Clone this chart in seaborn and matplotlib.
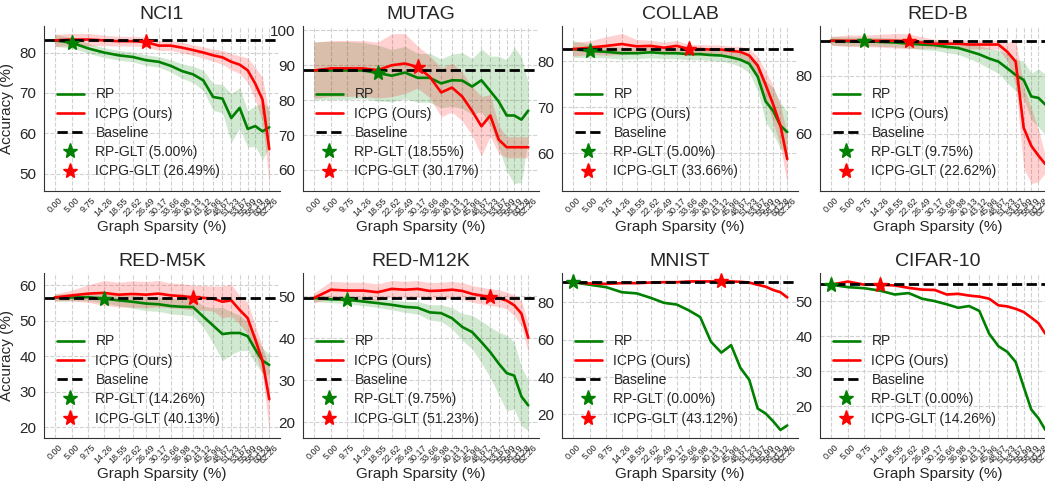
import matplotlib
matplotlib.use("Agg")
import matplotlib.pyplot as plt
from matplotlib.lines import Line2D
import numpy as np
import pandas as pd
import seaborn as sns

# Graph sparsity levels (%) used for every pruning round
sparsity = [0.00, 5.00, 9.75, 14.26, 18.55, 22.62, 26.49, 30.17, 33.66, 36.98,
            40.13, 43.12, 45.96, 48.67, 51.23, 53.67, 55.99, 58.19, 60.28, 62.26]
sparsity_labels = ["0.00", "5.00", "9.75", "14.26", "18.55", "22.62", "26.49", "30.17",
                   "33.66", "36.98", "40.13", "43.12", "45.96", "48.67", "51.23",
                   "53.67", "55.99", "58.19", "60.28", "62.26"]

datasets = ["NCI1", "MUTAG", "COLLAB", "RED-B", "RED-M5K", "RED-M12K", "MNIST", "CIFAR-10"]

# Baseline accuracy (unpruned)
baseline = [83.0, 88.5, 82.7, 92.0, 56.6, 49.6, 90.9, 54.9]

# RP (random pruning): mean and std accuracy per sparsity level
rp_nci1 = [83.0, 82.4, 81.0, 80.0, 79.3, 78.9, 78.1, 77.7, 76.7, 75.4,
           74.6, 73.1, 69.0, 68.6, 63.8, 66.3, 61.1, 61.8, 60.5, 61.5]
rp_nci1_std = [1.5, 1.3, 1.2, 1.2, 1.2, 1.2, 1.3, 1.3, 1.5, 1.8,
               2.0, 2.5, 3.3, 3.5, 6.0, 5.0, 4.5, 5.0, 7.0, 5.0]
rp_mutag = [88.5, 88.5, 88.5, 88.5, 87.8, 87.0, 87.9, 86.4, 86.4, 84.8,
            85.7, 85.6, 83.9, 85.7, 82.6, 79.6, 75.6, 75.6, 74.4, 77.0]
rp_mutag_std = [8.3, 8.3, 8.3, 8.0, 8.0, 7.5, 7.5, 7.0, 7.0, 7.0,
                7.5, 8.0, 8.0, 9.0, 10.0, 13.0, 16.0, 19.5, 18.0, 8.0]
rp_collab = [82.7, 82.3, 82.1, 81.8, 81.8, 82.0, 81.8, 81.8, 81.6, 81.6,
             81.4, 81.3, 80.9, 80.4, 79.5, 76.7, 71.3, 69.2, 66.0, 64.6]
rp_collab_std = [1.8, 1.5, 1.3, 1.3, 1.2, 1.2, 1.2, 1.2, 1.2, 1.2,
                 1.2, 1.2, 1.3, 1.5, 2.0, 3.0, 4.5, 5.0, 5.0, 4.5]
rp_redb = [92.0, 91.8, 91.8, 91.6, 91.4, 91.0, 90.7, 90.5, 89.9, 89.5,
           88.4, 87.3, 85.9, 84.8, 82.5, 80.2, 78.5, 72.8, 72.3, 70.0]
rp_redb_std = [1.5, 1.5, 1.5, 1.5, 1.5, 1.5, 1.8, 1.8, 2.0, 2.2,
               2.5, 3.0, 3.5, 4.0, 5.0, 5.5, 6.5, 8.0, 10.0, 10.5]
rp_m5k = [56.6, 56.6, 56.7, 56.3, 55.8, 55.4, 54.9, 54.7, 54.2, 54.0,
          53.9, 51.2, 48.7, 46.3, 46.6, 46.6, 45.7, 42.0, 38.8, 37.6]
rp_m5k_std = [1.0, 1.0, 1.0, 1.2, 1.5, 1.8, 2.0, 2.0, 2.2, 2.3,
              2.5, 3.0, 5.0, 7.5, 6.0, 5.0, 4.0, 4.0, 3.5, 3.0]
rp_m12k = [49.6, 49.3, 49.2, 48.8, 48.4, 48.0, 47.5, 47.3, 46.2, 46.0,
           44.8, 42.7, 41.5, 39.1, 36.7, 34.0, 31.7, 31.1, 26.1, 24.0]
rp_m12k_std = [0.8, 0.8, 0.9, 1.0, 1.0, 1.2, 1.3, 1.5, 1.8, 2.0,
               2.5, 3.2, 4.0, 5.0, 6.0, 7.5, 9.0, 8.0, 7.0, 6.0]
rp_mnist = [90.9, 89.5, 88.2, 85.5, 84.9, 82.5, 79.8, 78.9, 75.8, 72.2,
            58.9, 53.1, 57.1, 44.9, 38.5, 23.1, 20.4, 16.2, 11.6, 14.0]
rp_mnist_std = [0.3] * 20
rp_cifar = [54.7, 54.0, 53.7, 53.0, 51.9, 52.3, 50.7, 50.0, 49.1, 48.1,
            48.6, 47.2, 40.7, 37.1, 35.5, 32.6, 25.5, 19.0, 16.5, 13.2]
rp_cifar_std = [0.2] * 20

# ICPG (ours): mean and std accuracy per sparsity level
icpg_nci1 = [83.0, 83.2, 83.2, 83.0, 82.8, 82.8, 82.6, 81.7, 81.7, 81.2,
             80.6, 80.0, 79.3, 78.8, 77.7, 77.0, 75.6, 72.3, 68.4, 56.1]
icpg_nci1_std = [1.5, 1.5, 1.5, 1.3, 1.2, 1.2, 1.2, 1.2, 1.2, 1.3,
                 1.3, 1.4, 1.5, 1.7, 2.0, 2.2, 3.0, 4.0, 5.5, 8.5]
icpg_mutag = [88.5, 89.1, 89.1, 89.1, 88.6, 90.0, 90.5, 89.5, 86.7, 82.2,
              83.6, 81.0, 76.9, 72.5, 75.6, 68.7, 66.5, 66.5, 66.5, 66.5]
icpg_mutag_std = [8.0, 8.0, 8.0, 8.0, 8.0, 9.0, 8.6, 6.0, 6.0, 7.0,
                  7.0, 7.0, 7.0, 8.5, 6.0, 4.0, 3.0, 3.0, 3.0, 3.0]
icpg_collab = [82.7, 83.0, 83.4, 83.8, 83.3, 83.4, 83.0, 83.4, 82.7, 82.7,
               82.6, 82.6, 82.3, 82.1, 81.3, 79.1, 74.9, 70.6, 66.0, 58.7]
icpg_collab_std = [1.5, 1.5, 2.0, 2.3, 1.5, 1.2, 1.2, 1.2, 1.0, 1.0,
                   1.0, 1.0, 1.0, 1.2, 1.5, 2.0, 3.0, 4.0, 4.5, 5.3]
icpg_redb = [92.0, 92.0, 92.0, 92.0, 92.0, 91.8, 91.4, 91.0, 91.0, 91.0,
             90.7, 90.7, 90.7, 90.7, 88.2, 84.8, 62.0, 55.8, 52.4, 49.5]
icpg_redb_std = [1.5, 2.0, 2.0, 2.2, 2.5, 2.5, 2.0, 1.5, 1.5, 1.5,
                 1.5, 1.5, 1.5, 1.5, 3.0, 8.0, 14.0, 13.0, 9.0, 3.0]
icpg_m5k = [56.6, 57.2, 57.7, 57.9, 57.4, 57.6, 57.4, 57.7, 57.2, 57.0,
            56.6, 56.5, 56.3, 55.4, 55.8, 53.1, 50.8, 44.8, 38.8, 27.9]
icpg_m5k_std = [1.0, 1.5, 2.5, 3.5, 3.5, 3.7, 3.7, 3.7, 3.5, 3.5,
                3.5, 3.5, 3.5, 4.5, 4.5, 4.0, 4.5, 4.0, 4.0, 8.8]
icpg_m12k = [49.6, 51.6, 51.4, 51.4, 51.0, 51.8, 51.6, 51.8, 51.3, 51.4,
             51.6, 51.3, 50.6, 50.2, 49.8, 49.6, 49.0, 47.9, 45.9, 40.1]
icpg_m12k_std = [1.2, 2.0, 2.0, 2.0, 2.0, 2.0, 2.0, 2.0, 2.0, 2.0,
                 2.0, 2.0, 2.0, 2.0, 2.0, 2.0, 2.0, 2.5, 3.0, 3.5]
icpg_mnist = [90.9, 90.2, 90.0, 90.4, 90.4, 90.7, 90.9, 90.9, 91.3, 91.3,
              91.3, 91.3, 91.3, 91.1, 90.7, 89.5, 88.5, 86.7, 85.5, 82.7]
icpg_mnist_std = [0.5] * 20
icpg_cifar = [54.7, 55.6, 54.7, 54.7, 54.5, 53.8, 53.3, 53.2, 51.9, 52.1,
              51.6, 51.3, 50.7, 48.8, 48.5, 47.8, 46.9, 45.3, 43.7, 40.7]
icpg_cifar_std = [0.3] * 20

rp_mean = [rp_nci1, rp_mutag, rp_collab, rp_redb, rp_m5k, rp_m12k, rp_mnist, rp_cifar]
rp_std = [rp_nci1_std, rp_mutag_std, rp_collab_std, rp_redb_std,
          rp_m5k_std, rp_m12k_std, rp_mnist_std, rp_cifar_std]
icpg_mean = [icpg_nci1, icpg_mutag, icpg_collab, icpg_redb,
             icpg_m5k, icpg_m12k, icpg_mnist, icpg_cifar]
icpg_std = [icpg_nci1_std, icpg_mutag_std, icpg_collab_std, icpg_redb_std,
            icpg_m5k_std, icpg_m12k_std, icpg_mnist_std, icpg_cifar_std]

# Index of the graph lottery ticket (GLT) in the sparsity list
rp_glt_idx = [1, 4, 1, 2, 3, 2, 0, 0]
icpg_glt_idx = [6, 7, 8, 5, 10, 14, 11, 3]

sns.set_style("whitegrid", {
    "grid.linestyle": "--",
    "grid.color": "0.82",
    "axes.edgecolor": "0.2",
    "axes.linewidth": 1.6,
})
plt.rcParams["font.family"] = ["Liberation Sans", "DejaVu Sans"]

GREEN = "green"
RED = "red"
STAR = 11

fig = plt.figure(figsize=(10.45, 4.82), dpi=100)
W, H = 1045.0, 482.0
col_left = [44, 303, 562, 820]
row_top = [26, 273]
ax_w, ax_h = 236, 165

for i, name in enumerate(datasets):
    r, c = divmod(i, 4)
    ax = fig.add_axes([col_left[c] / W, 1 - (row_top[r] + ax_h) / H, ax_w / W, ax_h / H])
    x = np.array(sparsity)

    df = pd.DataFrame({"sparsity": x, "RP": rp_mean[i], "ICPG": icpg_mean[i]})
    m_rp, s_rp = np.array(rp_mean[i]), np.array(rp_std[i])
    m_ic, s_ic = np.array(icpg_mean[i]), np.array(icpg_std[i])

    ax.fill_between(x, m_rp - s_rp, m_rp + s_rp, color=GREEN, alpha=0.18, lw=0)
    ax.fill_between(x, m_ic - s_ic, m_ic + s_ic, color=RED, alpha=0.18, lw=0)
    sns.lineplot(data=df, x="sparsity", y="RP", ax=ax, color=GREEN, lw=1.9, legend=False)
    sns.lineplot(data=df, x="sparsity", y="ICPG", ax=ax, color=RED, lw=1.9, legend=False)
    ax.axhline(baseline[i], color="black", ls="--", lw=2)

    gi, gj = rp_glt_idx[i], icpg_glt_idx[i]
    ax.plot(sparsity[gi], rp_mean[i][gi], marker="*", color=GREEN, ms=STAR, ls="none", zorder=5)
    ax.plot(sparsity[gj], icpg_mean[i][gj], marker="*", color=RED, ms=STAR, ls="none", zorder=5)

    ax.set_xticks(sparsity)
    ax.set_xticklabels(sparsity_labels, rotation=45, fontsize=6.5)
    ax.tick_params(axis="y", labelsize=11, pad=2)
    ax.tick_params(axis="x", pad=0)
    ax.set_title(name, fontsize=14, pad=5)
    ax.set_xlabel("Graph Sparsity (%)", fontsize=11, labelpad=1)
    ax.set_ylabel("Accuracy (%)" if c == 0 else "", fontsize=11)
    sns.despine(ax=ax)

    handles = [
        Line2D([], [], color=GREEN, lw=1.9),
        Line2D([], [], color=RED, lw=1.9),
        Line2D([], [], color="black", ls="--", lw=2),
        Line2D([], [], color=GREEN, marker="*", ms=STAR, ls="none"),
        Line2D([], [], color=RED, marker="*", ms=STAR, ls="none"),
    ]
    labels = ["RP", "ICPG (Ours)", "Baseline",
              f"RP-GLT ({sparsity_labels[gi]}%)", f"ICPG-GLT ({sparsity_labels[gj]}%)"]
    ax.legend(handles, labels, loc="lower left", frameon=False, fontsize=10,
              labelspacing=0.38, handletextpad=0.8)

fig.savefig("out.png", dpi=100)
